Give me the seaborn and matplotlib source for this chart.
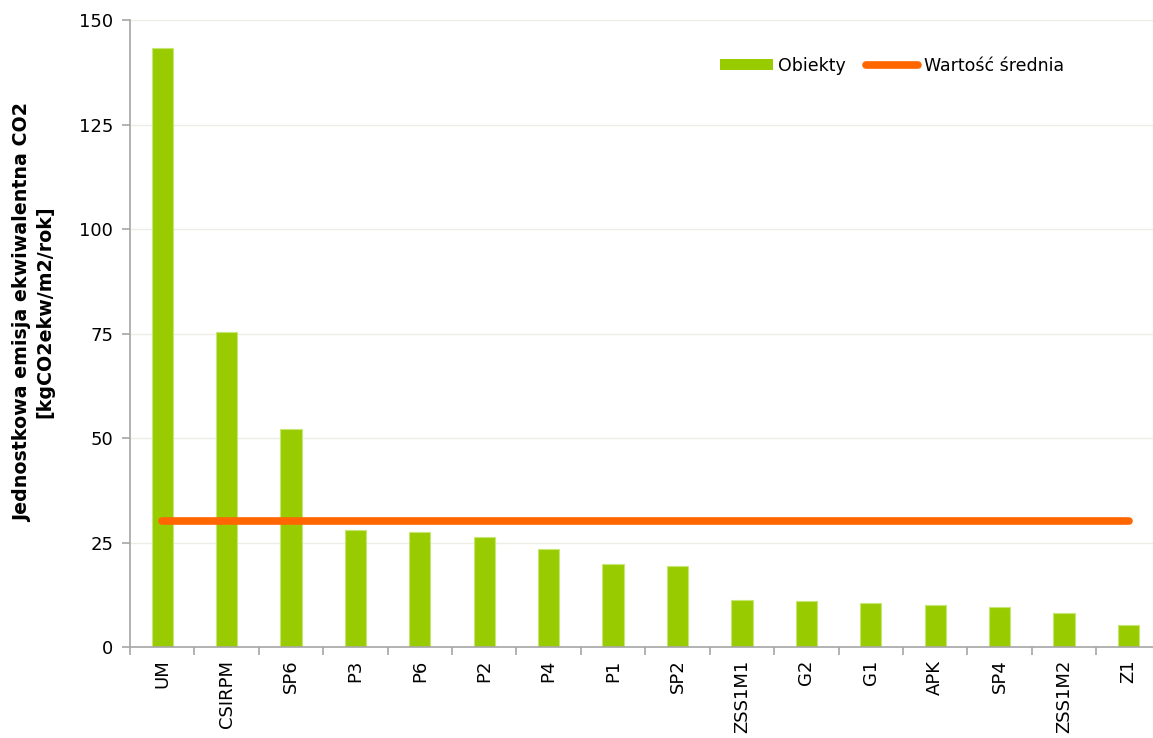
import pandas as pd
import numpy as np
import matplotlib.pyplot as plt
import seaborn as sns
from matplotlib.patches import Patch
from matplotlib.lines import Line2D

categories = ['UM', 'CSIRPM', 'SP6', 'P3', 'P6', 'P2', 'P4', 'P1', 'SP2',
              'ZSS1M1', 'G2', 'G1', 'APK', 'SP4', 'ZSS1M2', 'Z1']
emissions = [143.4, 75.4, 52.1, 28.1, 27.6, 26.4, 23.5, 19.9, 19.4,
             11.3, 11.1, 10.6, 10.1, 9.6, 8.1, 5.2]
mean_value = 30.2
y_ticks = [0, 25, 50, 75, 100, 125, 150]

df = pd.DataFrame({'obiekt': categories, 'emisja': emissions})
df['srednia'] = mean_value

sns.set_style('white')
plt.rcParams['font.family'] = ['DejaVu Sans']
plt.rcParams['text.color'] = 'black'
plt.rcParams['axes.labelcolor'] = 'black'

fig = plt.figure(figsize=(11.53, 7.38), dpi=100)
ax = fig.add_axes([0.1127, 0.1233, 0.8873, 0.8496])

sns.barplot(data=df, x='obiekt', y='emisja', color='#99CC00', width=0.33,
            edgecolor='#C8E676', linewidth=0.8, saturation=1, ax=ax, zorder=2)
sns.lineplot(data=df, x='obiekt', y='srednia', color='#FF6600', linewidth=5.5,
             solid_capstyle='round', ax=ax, zorder=3)

ax.set_ylim(0, 150)
ax.set_xlim(-0.5, 15.38)
ax.set_yticks(y_ticks)
ax.yaxis.grid(True, color='#EDEDE4', linewidth=1, zorder=0)
ax.set_axisbelow(True)

for s in ['top', 'right']:
    ax.spines[s].set_visible(False)
for s in ['left', 'bottom']:
    ax.spines[s].set_color('#A6A6A6')
    ax.spines[s].set_linewidth(1.2)

ax.set_xticks(range(len(categories)))
ax.set_xticklabels(categories, rotation=90, fontsize=13)
ax.set_xticks(np.arange(len(categories)) - 0.5, minor=True)
ax.tick_params(axis='x', which='major', bottom=True, length=0, pad=9, labelcolor='black')
ax.tick_params(axis='x', which='minor', bottom=True, length=6, color='#A6A6A6', width=1.2)
ax.tick_params(axis='y', left=True, length=6, color='#A6A6A6', width=1.2,
               labelsize=13, pad=6, labelcolor='black')

ax.set_xlabel('')
ax.set_ylabel('Jednostkowa emisja ekwiwalentna CO2\n[kgCO2ekw/m2/rok]',
              fontsize=13.7, fontweight='bold', labelpad=18)
ax.yaxis.label.set_y(0.534)

handles = [Patch(facecolor='#99CC00', edgecolor='none'),
           Line2D([0], [0], color='#FF6600', linewidth=5.5, solid_capstyle='round')]
ax.legend(handles, ['Obiekty', 'Wartość średnia'], loc='upper right',
          bbox_to_anchor=(0.928, 0.966), ncol=2, frameon=False, fontsize=12.5,
          handlelength=3.0, handleheight=0.6, handletextpad=0.3, columnspacing=1.2)

plt.savefig('out.png', dpi=100)
